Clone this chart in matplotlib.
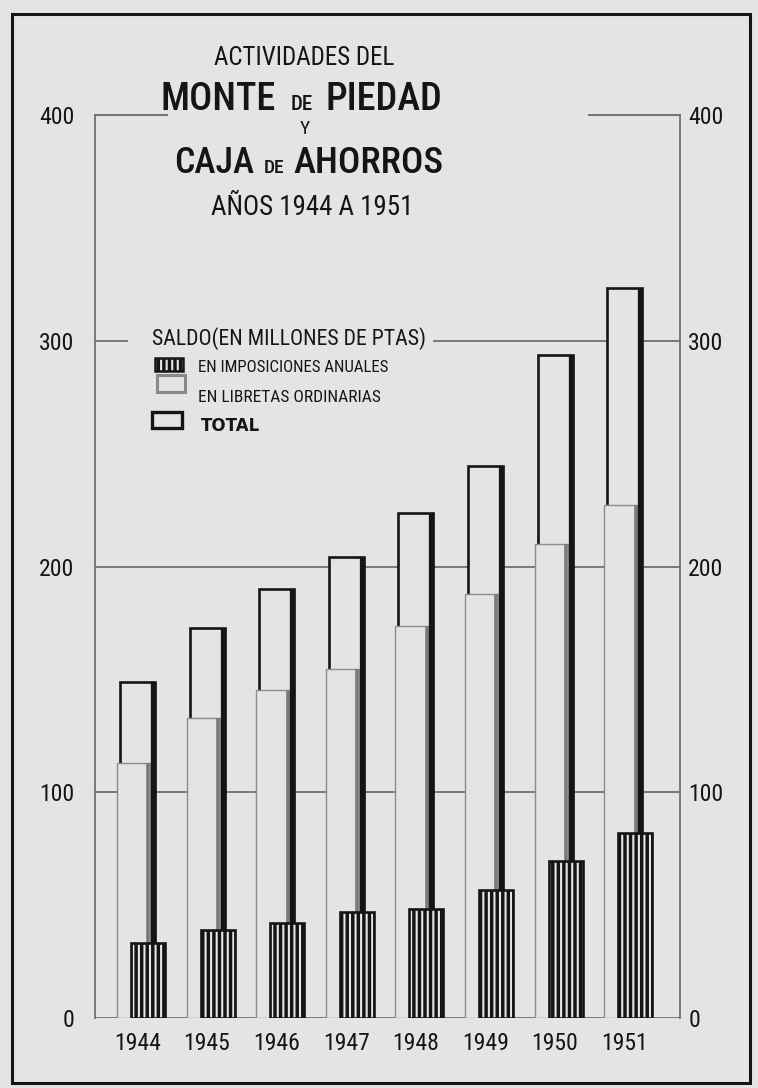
import matplotlib
matplotlib.use('Agg')
import matplotlib.pyplot as plt
import numpy as np
from matplotlib.patches import Rectangle
from matplotlib import font_manager as fm

# ---- data (millones de pesetas) ----
years = ['1944', '1945', '1946', '1947', '1948', '1949', '1950', '1951']
total = [148.8, 172.8, 190.0, 204.2, 223.7, 244.5, 293.7, 323.4]
libretas = [113.0, 132.9, 145.3, 154.6, 173.6, 187.8, 210.0, 227.2]
imposiciones = [33.2, 39.0, 42.1, 47.0, 48.3, 56.7, 69.5, 82.0]
yticks = [0, 100, 200, 300, 400]
ytick_labels = ['0', '100', '200', '300', '400']

W, H = 758, 1088
BG = '#e4e4e2'
INK = '#151515'
GRID = '#707070'


def pick_font():
    names = {f.name for f in fm.fontManager.ttflist}
    for n in ['Liberation Sans Narrow', 'Roboto Condensed', 'Open Sans Condensed',
              'DejaVu Sans Condensed', 'Noto Sans Condensed']:
        if n in names:
            return n, 'normal'
    for fam in ['DejaVu Sans', 'Noto Sans', 'Open Sans', 'Roboto']:
        for f in fm.fontManager.ttflist:
            if f.name == fam and str(f.stretch) in ('condensed', 'semi-condensed',
                                                     'extra-condensed'):
                return fam, f.stretch
    return 'Liberation Sans', 'normal'


FAM, STRETCH = pick_font()
FONT = [FAM, 'DejaVu Sans']
plt.rcParams['font.family'] = FONT
plt.rcParams['hatch.linewidth'] = 2.5

fig = plt.figure(figsize=(W / 100, H / 100), dpi=100, facecolor=BG)
renderer = fig.canvas.get_renderer()


def P(x, y):
    """pixel (from top-left) -> figure fraction"""
    return x / W, 1 - y / H


# axes: inner frame px x 95..680, y(0)=1018, y(400)=115
ax = fig.add_axes([95 / W, (H - 1018) / H, 585 / W, 903 / H])
ax.set_facecolor(BG)
unit = 69.6  # px per category
ax.set_xlim(-0.61, -0.61 + 585 / unit)
ax.set_ylim(0, 400)

x = np.arange(len(years))
wt = 35 / unit
ax.bar(x, total, width=wt, facecolor=BG, edgecolor=INK, linewidth=1.9, zorder=2)
ax.bar(x - 4 / unit, libretas, width=33 / unit, facecolor=BG, edgecolor='#8c8c8c',
       linewidth=1.0, zorder=3)
ax.vlines(x + (17.5 - 6.5) / unit, imposiciones, libretas, color='#7a7a7a', lw=2.6, zorder=4)
ax.vlines(x + (17.5 - 2) / unit, imposiciones, total, color=INK, lw=3.8, zorder=4)
ax.bar(x + 10.5 / unit, imposiciones, width=34 / unit, facecolor='#e8e8e8', edgecolor=INK,
       linewidth=1.9, hatch='|||', zorder=5)

ax.set_yticks(yticks)
ax.set_yticklabels(ytick_labels)
ax.grid(axis='y', color=GRID, lw=1.3, zorder=1)
ax.grid(axis='x', visible=False)
ax.set_axisbelow(True)
for s in ax.spines.values():
    s.set_color(GRID)
    s.set_linewidth(1.3)
ax.spines['bottom'].set_visible(False)

ax.set_xticks(x)
ax.set_xticklabels(years)
ax.tick_params(axis='x', length=0, pad=10, colors=INK)
ax.tick_params(axis='y', length=0, pad=15, colors=INK)

ax2 = ax.twinx()
ax2.set_ylim(0, 400)
ax2.set_yticks(yticks)
ax2.set_yticklabels(ytick_labels)
ax2.tick_params(axis='y', length=0, pad=6, colors=INK)
for s in ax2.spines.values():
    s.set_visible(False)


def fit(t, size, target_w, floor=0.9):
    """shrink a text a little so that it spans about target_w pixels"""
    t.set_fontsize(size)
    t.set_fontstretch(STRETCH)
    w = t.get_window_extent(renderer).width
    if w > target_w:
        t.set_fontsize(max(size * floor, size * target_w / w))


for lab in ax.get_xticklabels():
    fit(lab, 18, 40, 0.95)
for lab in ax.get_yticklabels() + ax2.get_yticklabels():
    fit(lab, 18, 10 * len(lab.get_text()), 0.95)

# cover the top frame line behind the title block, and the 300 line behind the legend title
fig.add_artist(Rectangle(P(168, 128), 420 / W, 20 / H, transform=fig.transFigure,
                         facecolor=BG, edgecolor='none', zorder=2))
fig.add_artist(Rectangle(P(128, 347), 305 / W, 14 / H, transform=fig.transFigure,
                         facecolor=BG, edgecolor='none', zorder=2))


def T(px, py, s, size, target_w, ha='left', weight='normal', floor=0.92, family=None):
    t = fig.text(*P(px, py), s, ha=ha, va='baseline', color=INK,
                 fontweight=weight, zorder=4)
    if family is not None:
        t.set_family(family)
        t.set_fontsize(size)
    else:
        fit(t, size, target_w, floor)
    return t


# ---- title ----
T(304, 65, 'ACTIVIDADES DEL', 18, 216, ha='center')
T(276, 110, 'MONTE', 30, 94, ha='right', weight='medium')
T(302, 110, 'DE', 15, 32, ha='center', weight='medium')
T(326, 110, 'PIEDAD', 30, 106, weight='medium')
T(305, 134, 'Y', 14, 14, ha='center')
T(254, 173, 'CAJA', 28, 76, ha='right', weight='medium')
T(274, 173, 'DE', 14, 34, ha='center', weight='medium')
T(293, 173, 'AHORROS', 28, 150, weight='medium')
T(312, 215, 'AÑOS 1944 A 1951', 20, 202, ha='center')

# ---- legend ----
T(152, 345, 'SALDO(EN MILLONES DE PTAS)', 17, 236, floor=0.92)
T(198, 372, 'EN IMPOSICIONES ANUALES', 12.5, 192, floor=0.95)
T(198, 402, 'EN LIBRETAS ORDINARIAS', 12.5, 184, floor=0.95)
T(201, 431, 'TOTAL', 12, 68, weight='bold', family=['DejaVu Sans'])
fig.add_artist(Rectangle(P(155, 371), 28 / W, 13 / H, transform=fig.transFigure,
                         facecolor='#e8e8e8', edgecolor=INK, lw=1.8, hatch='|||', zorder=4))
fig.add_artist(Rectangle(P(157, 392), 28 / W, 17 / H, transform=fig.transFigure,
                         facecolor=BG, edgecolor='#8a8a8a', lw=2.2, zorder=4))
fig.add_artist(Rectangle(P(152, 428), 30 / W, 16 / H, transform=fig.transFigure,
                         facecolor=BG, edgecolor=INK, lw=2.4, zorder=4))

# outer page border
fig.add_artist(Rectangle(P(12, 1083), 738 / W, 1069 / H, transform=fig.transFigure,
                         fill=False, edgecolor=INK, lw=2.2, zorder=5))

fig.savefig('out.png', dpi=100, facecolor=BG)
